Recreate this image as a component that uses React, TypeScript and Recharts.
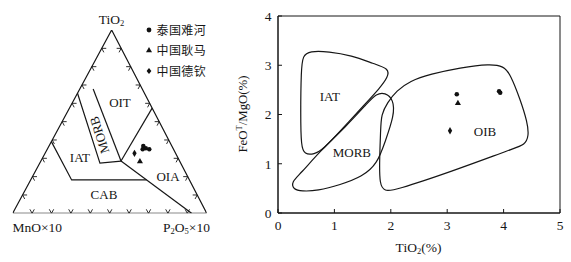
import React from "react";
import { ComposedChart, Line, Scatter, XAxis, YAxis, ZAxis, ReferenceArea } from "recharts";

const SERIF = "'Liberation Serif', 'Times New Roman', serif";
const CJK = "'Noto Sans CJK SC', sans-serif";
const INK = "#161616";

// ternary values are [TiO2, MnO×10, P2O5×10] in %
const ternaryFrame = [[0, 100, 0], [0, 0, 100], [100, 0, 0], [0, 100, 0]];
const morbLeftLine = [[65.5, 34.5, 0], [27.4, 41.6, 31.0], [28.5, 30.2, 41.3]];
const morbRightLine = [[67.8, 25.3, 6.9], [28.5, 30.2, 41.3]];
const oitOiaLine = [[28.5, 30.2, 41.3], [57.4, 0, 42.6]];
const oiaCabLine = [[28.5, 30.2, 41.3], [0, 7.8, 92.2]];
const iatCabLine = [[39.1, 60.9, 0], [18.2, 60.7, 21.1], [18.2, 22.1, 59.7]];
const ternaryTickSteps = [10, 20, 30, 40, 50, 60, 70, 80, 90];

const nanRiverTernary = [[36.7, 14.7, 48.6], [35.5, 14.0, 50.5], [34.9, 15.9, 49.2], [34.9, 12.5, 52.6]];
const gengmaTernary = [[28.2, 20.6, 51.2]];
const deqinTernary = [[32.7, 21.2, 46.1]];

const ternaryFieldNames = ["OIT", "MORB", "IAT", "CAB", "OIA"];
const ternaryFieldSpots = [[60.2, 15.2, 24.6], [42.7, 34.4, 22.9], [30.7, 50.3, 19.0], [10.5, 47.8, 41.7], [20.3, 10.0, 69.7]];

// FeOT/MgO vs TiO2
const xTicks = [0, 1, 2, 3, 4, 5];
const yTicks = [0, 1, 2, 3, 4];

const iatField = [
  [0.41, 2.9], [0.44, 3.2], [0.56, 3.29], [0.9, 3.28], [1.3, 3.2], [1.7, 3.03], [1.97, 2.93],
  [1.95, 2.76], [1.8, 2.53], [1.55, 2.22], [1.15, 1.72], [0.8, 1.29], [0.64, 1.19], [0.47, 1.19],
  [0.41, 1.35], [0.4, 2.0],
];
const morbField = [
  [0.24, 0.63], [0.27, 0.48], [0.42, 0.44], [0.7, 0.45], [1.1, 0.57], [1.5, 0.74], [1.76, 1.0],
  [1.9, 1.45], [2.06, 1.98], [2.05, 2.3], [1.9, 2.45], [1.74, 2.42], [1.6, 2.25], [1.2, 1.75],
  [0.75, 1.26], [0.4, 0.8],
];
const oibField = [
  [1.82, 1.69], [1.83, 2.0], [1.94, 2.24], [2.1, 2.48], [2.34, 2.68], [2.7, 2.82], [3.23, 2.95],
  [3.76, 3.03], [4.0, 2.98], [4.12, 2.82], [4.3, 2.29], [4.42, 1.85], [4.45, 1.56], [4.37, 1.38],
  [4.2, 1.32], [3.05, 0.83], [2.07, 0.46], [1.89, 0.44], [1.8, 0.58], [1.8, 1.08],
];

const nanRiverPoints = [[3.17, 2.41], [3.92, 2.47], [3.94, 2.44]];
const gengmaPoints = [[3.19, 2.23]];
const deqinPoints = [[3.05, 1.67]];

const fieldNames = ["IAT", "MORB", "OIB"];
const fieldSpots = [[0.92, 2.36], [1.31, 1.22], [3.67, 1.66]];

const APEX_X = 0.51;
const tern = (v: number[]) => ({ x: (v[2] + APEX_X * v[0]) / 100, y: v[0] / 100 });
const xy = (v: number[]) => ({ x: v[0], y: v[1] });

const tickRows = [
  ...ternaryTickSteps.map((s) => ({ ...tern([0, 100 - s, s]), side: "b" })),
  ...ternaryTickSteps.map((s) => ({ ...tern([s, 100 - s, 0]), side: "l" })),
  ...ternaryTickSteps.map((s) => ({ ...tern([s, 0, 100 - s]), side: "r" })),
];

const ARMS: Record<string, number[][]> = {
  b: [[-2.2, -4], [2.2, -4]],
  l: [[4.5, 0], [2.1, 4]],
  r: [[-4.5, 0], [-2.1, 4]],
};

function TernaryTick(props: any) {
  const { cx, cy, payload } = props;
  const [a, b] = ARMS[payload.side];
  return (
    <path
      d={`M${cx + a[0]},${cy + a[1]}L${cx},${cy}L${cx + b[0]},${cy + b[1]}`}
      stroke={INK}
      strokeWidth={0.9}
      fill="none"
    />
  );
}

function FieldText(props: any) {
  const { cx, cy, payload } = props;
  const rot = payload.name === "MORB" && payload.rotate ? `rotate(-108 ${cx} ${cy})` : undefined;
  return (
    <text x={cx} y={cy} textAnchor="middle" dominantBaseline="central" fontFamily={SERIF} fontSize={13} fill={INK} transform={rot}>
      {payload.name}
    </text>
  );
}

const lineProps = { stroke: INK, strokeWidth: 1.2, dot: false, activeDot: false, isAnimationActive: false, dataKey: "y" } as const;

function Ternary() {
  const labels = ternaryFieldNames.map((name, i) => ({ ...tern(ternaryFieldSpots[i]), name, rotate: true }));
  return (
    <ComposedChart width={230} height={262} margin={{ top: 30, right: 23.3, bottom: 48.7, left: 12.7 }}>
      <XAxis type="number" dataKey="x" domain={[0, 1]} hide height={0} allowDataOverflow />
      <YAxis type="number" dataKey="y" domain={[0, 1]} hide width={0} allowDataOverflow />
      <ZAxis range={[16, 16]} />
      {[ternaryFrame, morbLeftLine, morbRightLine, oitOiaLine, oiaCabLine, iatCabLine].map((ln, i) => (
        <Line key={i} data={ln.map(tern)} type="linear" {...lineProps} />
      ))}
      <Scatter data={tickRows} dataKey="y" shape={TernaryTick} isAnimationActive={false} />
      <Scatter data={labels} dataKey="y" shape={FieldText} isAnimationActive={false} />
      <Scatter data={nanRiverTernary.map(tern)} dataKey="y" shape="circle" fill="#111" isAnimationActive={false} />
      <Scatter data={gengmaTernary.map(tern)} dataKey="y" shape="triangle" fill="#111" isAnimationActive={false} />
      <Scatter data={deqinTernary.map(tern)} dataKey="y" shape="diamond" fill="#111" isAnimationActive={false} />
    </ComposedChart>
  );
}

function RatioChart() {
  const labels = fieldNames.map((name, i) => ({ ...xy(fieldSpots[i]), name }));
  const tickStyle = { fill: INK, fontSize: 13.5, fontFamily: SERIF };
  return (
    <ComposedChart width={371} height={262} margin={{ top: 16, right: 11, bottom: 19, left: 18 }}>
      <XAxis
        type="number"
        dataKey="x"
        domain={[0, 5]}
        ticks={xTicks}
        height={30}
        tickSize={-4}
        tickMargin={11}
        stroke={INK}
        tick={tickStyle}
        allowDataOverflow
      />
      <YAxis
        type="number"
        dataKey="y"
        domain={[0, 4]}
        ticks={yTicks}
        width={60}
        tickSize={-4}
        tickMargin={10.5}
        stroke={INK}
        tick={tickStyle}
        allowDataOverflow
      />
      <ZAxis range={[16, 16]} />
      <ReferenceArea x1={0} x2={5} y1={0} y2={4} fill="none" stroke={INK} strokeWidth={1} />
      <Line data={iatField.map(xy)} type="basisClosed" {...lineProps} />
      <Line data={morbField.map(xy)} type="basisClosed" {...lineProps} />
      <Line data={oibField.map(xy)} type="basisClosed" {...lineProps} />
      <Scatter data={labels} dataKey="y" shape={FieldText} isAnimationActive={false} />
      <Scatter data={nanRiverPoints.map(xy)} dataKey="y" shape="circle" fill="#111" isAnimationActive={false} />
      <Scatter data={gengmaPoints.map(xy)} dataKey="y" shape="triangle" fill="#111" isAnimationActive={false} />
      <Scatter data={deqinPoints.map(xy)} dataKey="y" shape="diamond" fill="#111" isAnimationActive={false} />
    </ComposedChart>
  );
}

const legendItems = [
  { name: "泰国难河", symbol: "circle" },
  { name: "中国耿马", symbol: "triangle" },
  { name: "中国德钦", symbol: "diamond" },
];

function LegendSymbol({ kind }: { kind: string }) {
  return (
    <svg width={8} height={8} viewBox="-4 -4 8 8" style={{ position: "absolute", left: -4, top: -4 }}>
      {kind === "circle" && <circle r={2.4} fill="#111" />}
      {kind === "triangle" && <path d="M0,-3L3,2.3L-3,2.3Z" fill="#111" />}
      {kind === "diamond" && <path d="M0,-3L2.4,0L0,3L-2.4,0Z" fill="#111" />}
    </svg>
  );
}

const abs = (left: number, top: number, extra: React.CSSProperties = {}): React.CSSProperties => ({
  position: "absolute",
  left,
  top,
  whiteSpace: "nowrap",
  lineHeight: 1,
  color: INK,
  fontFamily: SERIF,
  fontSize: 13.5,
  ...extra,
});

const small: React.CSSProperties = { fontSize: 8.5, lineHeight: 0 };

export default function App() {
  return (
    <div style={{ position: "absolute", left: 0, top: 0, width: 571, height: 262, background: "#fff", overflow: "hidden" }}>
      <div style={{ position: "absolute", left: 200, top: 0 }}>
        <RatioChart />
      </div>
      <div style={{ position: "absolute", left: 0, top: 0 }}>
        <Ternary />
      </div>

      <div style={abs(111.5, 20, { transform: "translate(-50%,-50%)" })}>
        TiO<span style={{ ...small, position: "relative", top: 2 }}>2</span>
      </div>
      <div style={abs(12.5, 228, { transform: "translateY(-50%)" })}>MnO×10</div>
      <div style={abs(163, 228, { transform: "translateY(-50%)" })}>
        P<span style={{ ...small, position: "relative", top: 2 }}>2</span>O
        <span style={{ ...small, position: "relative", top: 2 }}>5</span>×10
      </div>

      {legendItems.map((it, i) => (
        <div key={it.name} style={{ position: "absolute", left: 149, top: [30, 50, 70.5][i] }}>
          <LegendSymbol kind={it.symbol} />
          <span style={abs(7.5, 0, { fontFamily: CJK, fontSize: 12, letterSpacing: 0.4, transform: "translateY(-50%)" })}>
            {it.name}
          </span>
        </div>
      ))}

      <div style={abs(243, 114, { fontSize: 12.8, transform: "translate(-50%,-50%) rotate(-90deg)" })}>
        FeO<span style={{ ...small, position: "relative", top: -5 }}>T</span>/MgO(%)
      </div>
      <div style={abs(418.5, 248, { transform: "translate(-50%,-50%)" })}>
        TiO<span style={{ ...small, position: "relative", top: 2 }}>2</span>(%)
      </div>
    </div>
  );
}
